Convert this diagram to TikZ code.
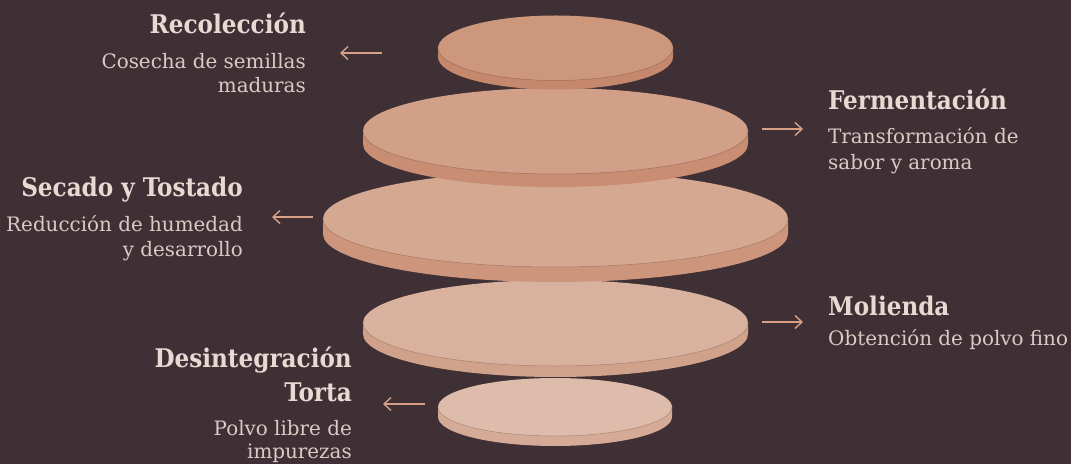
\documentclass[tikz,border=0pt]{standalone}
\usepackage{fontspec}
\setmainfont{DejaVu Serif}
\newfontfamily\ttlfont{DejaVu Serif Condensed}
\usetikzlibrary{arrows.meta}
\definecolor{bg}{HTML}{3E3035}
\definecolor{ttl}{HTML}{E6DAD3}
\definecolor{dsc}{HTML}{D9CBC4}
\definecolor{arr}{HTML}{D9A088}
\definecolor{dat}{HTML}{CD977B}\definecolor{das}{HTML}{C5886D}
\definecolor{dbt}{HTML}{D2A088}\definecolor{dbs}{HTML}{C98D73}
\definecolor{dct}{HTML}{D5A891}\definecolor{dcs}{HTML}{CD967C}
\definecolor{ddt}{HTML}{D9B19F}\definecolor{dds}{HTML}{D1A28B}
\definecolor{det}{HTML}{DDBCAC}\definecolor{des}{HTML}{D5AA96}
\newcommand{\mydisc}[7]{%
  \fill[#7] (#1-#3,#2) -- (#1-#3,#2-#5) arc[start angle=180,end angle=360,x radius=#3,y radius=#4] -- (#1+#3,#2) -- cycle;
  \fill[#6] (#1,#2) ellipse[x radius=#3, y radius=#4];
  \draw[#7!80!black, line width=0.5pt] (#1-#3,#2) arc[start angle=180,end angle=360,x radius=#3,y radius=#4];
}
\tikzset{
  ttlstyle/.style={font=\ttlfont\bfseries\fontsize{25.7}{32}\selectfont, text=ttl, inner sep=0pt},
  dscstyle/.style={font=\fontsize{19.9}{24}\selectfont, text=dsc, inner sep=0pt},
  arrstyle/.style={draw=arr, line width=1.4pt, -{Straight Barb[length=7pt,width=13pt]}}
}
\begin{document}
\begin{tikzpicture}[x=1pt,y=1pt]
\useasboundingbox (0,0) rectangle (1071,464);
\fill[bg] (0,0) rectangle (1071,464);
% discs, bottom first
\mydisc{555}{57}{117}{29}{10}{det}{des}
\mydisc{555.5}{141}{192.5}{43}{11}{ddt}{dds}
\mydisc{555.5}{245}{232.5}{48}{15}{dct}{dcs}
\mydisc{555.5}{333}{192.5}{43}{13}{dbt}{dbs}
\mydisc{555.5}{416}{117.5}{32.5}{9}{dat}{das}
% labels
\node[ttlstyle, anchor=base east] (t1) at (306,430) {Recolección};
\node[dscstyle, anchor=base east] (d1a) at (306,395) {Cosecha de semillas};
\node[dscstyle, anchor=base east] (d1b) at (306,371) {maduras};
\node[ttlstyle, anchor=base west] (t2) at (828,354) {Fermentación};
\node[dscstyle, anchor=base west] (d2a) at (828,320) {Transformación de};
\node[dscstyle, anchor=base west] (d2b) at (828,294) {sabor y aroma};
\node[ttlstyle, anchor=base east] (t3) at (243,267) {Secado y Tostado};
\node[dscstyle, anchor=base east] (d3a) at (243,232) {Reducción de humedad};
\node[dscstyle, anchor=base east] (d3b) at (243,207) {y desarrollo};
\node[ttlstyle, anchor=base west] (t4) at (828,149) {Molienda};
\node[dscstyle, anchor=base west] (d4a) at (828,119) {Obtención de polvo fino};
\node[ttlstyle, anchor=base east] (t5a) at (352,97) {Desintegración};
\node[ttlstyle, anchor=base east] (t5b) at (352,63) {Torta};
\node[dscstyle, anchor=base east] (d5a) at (352,29) {Polvo libre de};
\node[dscstyle, anchor=base east] (d5b) at (352,6) {impurezas};
% arrows
\coordinate (a1s) at (382,411); \coordinate (a1e) at (340,411);
\coordinate (a2s) at (762,335); \coordinate (a2e) at (803,335);
\coordinate (a3s) at (313,247); \coordinate (a3e) at (272,247);
\coordinate (a4s) at (762,142); \coordinate (a4e) at (803,142);
\coordinate (a5s) at (425,60);  \coordinate (a5e) at (383,60);
\draw[arrstyle] (a1s) -- (a1e);
\draw[arrstyle] (a2s) -- (a2e);
\draw[arrstyle] (a3s) -- (a3e);
\draw[arrstyle] (a4s) -- (a4e);
\draw[arrstyle] (a5s) -- (a5e);
\end{tikzpicture}
\end{document}
